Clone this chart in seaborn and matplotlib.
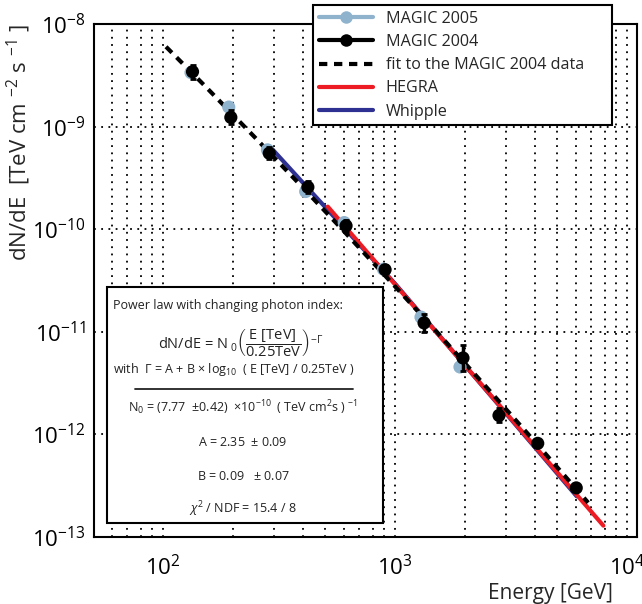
import numpy as np
import pandas as pd
import matplotlib
matplotlib.use("Agg")
import matplotlib.pyplot as plt
import seaborn as sns
from matplotlib.lines import Line2D
from matplotlib.patches import Rectangle
from matplotlib.ticker import LogLocator, NullFormatter

# ---------------- data ----------------
magic04_E = [134, 196, 287, 421, 615, 906, 1334, 1963, 2806, 4122, 6040]
magic04_F = [3.43e-9, 1.23e-9, 5.5e-10, 2.57e-10, 1.08e-10, 4.03e-11,
             1.22e-11, 5.56e-12, 1.53e-12, 8.18e-13, 3.01e-13]
magic04_err_lo = [0.50e-9, 0.18e-9, 0.69e-10, 0.32e-10, 0.14e-10, 0.43e-11,
                  0.22e-11, 1.41e-12, 0.22e-12, 0.5e-13, 0.2e-13]
magic04_err_hi = [0.58e-9, 0.21e-9, 0.79e-10, 0.37e-10, 0.16e-10, 0.48e-11,
                  0.27e-11, 1.89e-12, 0.26e-12, 0.6e-13, 0.2e-13]

magic05_E = [132, 192, 282, 412, 604, 891, 1294, 1905]
magic05_F = [3.36e-9, 1.55e-9, 5.93e-10, 2.33e-10, 1.16e-10, 4.08e-11,
             1.39e-11, 4.54e-12]

fit_E = [103, 150, 250, 400, 600, 1000, 1500, 2500, 4000, 6800]
fit_F = [6.0e-9, 2.55e-9, 7.77e-10, 2.55e-10, 9.64e-11, 2.77e-11,
         1.02e-11, 2.82e-12, 8.52e-13, 2.16e-13]

hegra_E = [513, 7907]
hegra_F = [1.66e-10, 1.29e-13]

whipple_E = [289, 1000, 6070]
whipple_F = [6.38e-10, 2.95e-11, 2.49e-13]

# ---------------- style ----------------
sns.set_style("white")
FONT = ["Open Sans", "DejaVu Sans"]
plt.rcParams["font.family"] = FONT
plt.rcParams["mathtext.fontset"] = "custom"
plt.rcParams["mathtext.rm"] = "Open Sans"
plt.rcParams["mathtext.it"] = "Open Sans:italic"
plt.rcParams["mathtext.bf"] = "Open Sans:bold"
plt.rcParams["mathtext.sf"] = "Open Sans"

C_M05 = "#8fb3cc"
C_HEGRA = "#ed1c24"
C_WHIP = "#2e3192"

fig = plt.figure(figsize=(6.42, 6.04), dpi=100)
ax = fig.add_axes([94/642, 1-537/604, (637-94)/642, (537-24)/604])

ax.set_xscale("log")
ax.set_yscale("log")
ax.set_xlim(50.4, 11040)
ax.set_ylim(1e-13, 1e-8)

# grid
ax.xaxis.set_minor_locator(LogLocator(base=10, subs=np.arange(2, 10)))
ax.xaxis.set_minor_formatter(NullFormatter())
ax.yaxis.set_minor_locator(LogLocator(base=10, subs=np.arange(2, 10)))
ax.yaxis.set_minor_formatter(NullFormatter())
gkw = dict(color="black", linestyle=(0, (1, 3)), linewidth=1.3)
ax.grid(True, which="major", axis="both", **gkw)
ax.grid(True, which="minor", axis="x", **gkw)
ax.set_axisbelow(True)

# curves
sns.lineplot(x=whipple_E, y=whipple_F, ax=ax, color=C_WHIP, lw=3, zorder=3,
             estimator=None, sort=False)
sns.lineplot(x=hegra_E, y=hegra_F, ax=ax, color=C_HEGRA, lw=3, zorder=4,
             estimator=None, sort=False)
sns.lineplot(x=fit_E, y=fit_F, ax=ax, color="black", lw=3, zorder=5,
             linestyle=(0, (2, 1.6)), estimator=None, sort=False)

# data points
sns.scatterplot(x=magic05_E, y=magic05_F, ax=ax, color=C_M05, s=90,
                edgecolor="none", zorder=6)
ax.errorbar(magic04_E, magic04_F, yerr=[magic04_err_lo, magic04_err_hi],
            fmt="none", ecolor="black", elinewidth=2.5, capsize=2.5,
            capthick=2, zorder=7)
sns.scatterplot(x=magic04_E, y=magic04_F, ax=ax, color="black", s=90,
                edgecolor="none", zorder=8)

# axes styling
for s in ax.spines.values():
    s.set_linewidth(1.5)
    s.set_color("black")
ax.tick_params(which="both", direction="in", top=False, right=False,
               labelsize=16, width=1.3, colors="black")
ax.tick_params(which="major", length=14)
ax.tick_params(which="minor", length=8)
ax.tick_params(axis="x", which="major", pad=13)
ax.tick_params(axis="y", which="major", pad=6)

ax.set_xlabel("Energy [GeV]", fontsize=15, ha="right")
ax.xaxis.set_label_coords((613-94)/(637-94), -0.09)
ax.set_ylabel(r"dN/dE  [TeV cm $^{-2}$ s $^{-1}$ ]", fontsize=16, ha="right")
ax.yaxis.set_label_coords(-0.112, 1.0)

# legend
handles = [
    Line2D([], [], color=C_M05, lw=3, marker="o", ms=9, mec="none"),
    Line2D([], [], color="black", lw=3, marker="o", ms=9, mec="none"),
    Line2D([], [], color="black", lw=3, linestyle=(0, (2, 1.6))),
    Line2D([], [], color=C_HEGRA, lw=3),
    Line2D([], [], color=C_WHIP, lw=3),
]
labels = ["MAGIC 2005", "MAGIC 2004", "fit to the MAGIC 2004 data", "HEGRA", "Whipple"]
leg = fig.legend(handles, labels, loc="upper left",
                 bbox_to_anchor=(313/642, 1-5/604, (612-313)/642, 0.0),
                 mode="expand", fontsize=11.6, frameon=True, fancybox=False,
                 borderaxespad=0, handlelength=3.4, handletextpad=0.75,
                 labelspacing=0.45, borderpad=0.35)
leg.get_frame().set_edgecolor("black")
leg.get_frame().set_linewidth(1.5)
leg.get_frame().set_facecolor("white")
leg.get_frame().set_alpha(1)

# info box
def fx(px):
    return px / 642

def fy(py):
    return 1 - py / 604

box = Rectangle((fx(107), fy(523)), fx(383) - fx(107), fy(287) - fy(523),
                transform=fig.transFigure, facecolor="white", edgecolor="black",
                linewidth=1.5, zorder=10)
fig.patches.append(box)
tkw = dict(fontsize=9, color="#222222", zorder=11)
cx = fx(243)
fig.text(fx(113), fy(306), "Power law with changing photon index:", ha="left",
         va="center", **tkw)
fig.text(fx(241), fy(343),
         r"dN/dE = N$_{\ 0}\left(\dfrac{\mathrm{E\ [TeV]}}{\mathrm{0.25TeV}}\right)^{\mathrm{-}\Gamma}$",
         ha="center", va="center", fontsize=10.5, color="#222222", zorder=11)
fig.text(fx(234), fy(369),
         r"with  $\Gamma$ = A + B $\times$ log$_{10}$  ( E [TeV] / 0.25TeV )",
         ha="center", va="center", **tkw)
fig.add_artist(Line2D([fx(135), fx(353)], [fy(389), fy(389)],
                      transform=fig.transFigure, color="#222222", lw=1.3, zorder=11))
fig.text(cx, fy(408),
         r"N$_0$ = (7.77  $\pm$0.42)  $\times$10$^{-10}$  ( TeV cm$^2$s ) $^{-1}$",
         ha="center", va="center", **tkw)
fig.text(cx, fy(443), r"A = 2.35  $\pm$ 0.09", ha="center", va="center", **tkw)
fig.text(cx, fy(477), r"B = 0.09   $\pm$ 0.07", ha="center", va="center", **tkw)
fig.text(cx, fy(509), r"$\chi^2$ / NDF = 15.4 / 8", ha="center", va="center", **tkw)

fig.savefig("out.png", dpi=100)
